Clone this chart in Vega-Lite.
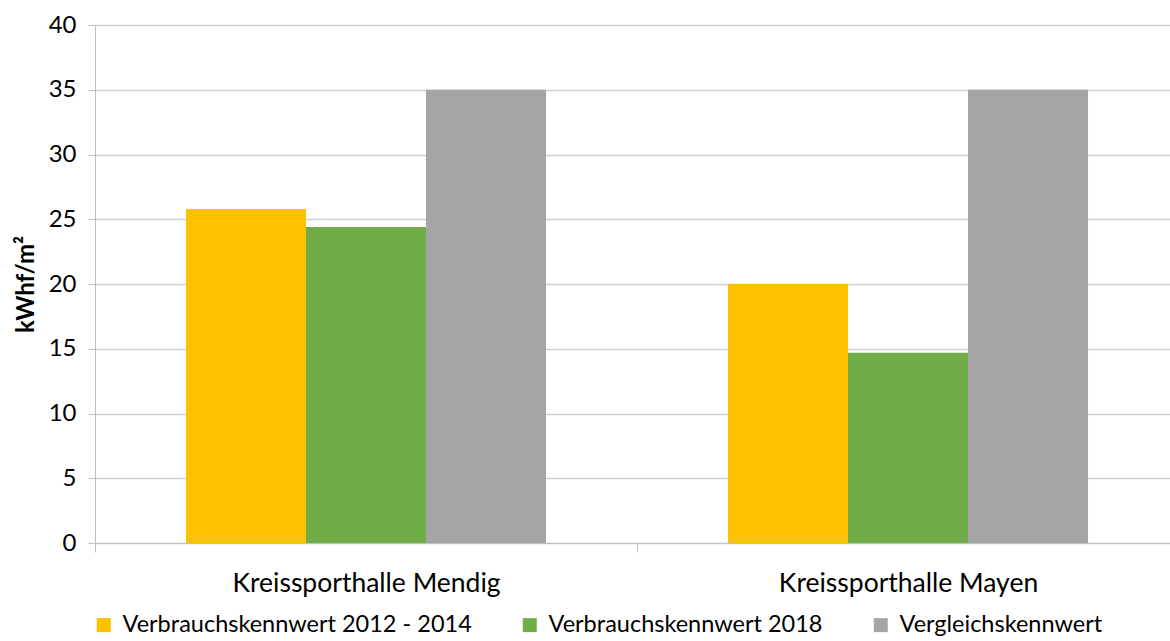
{
  "$schema": "https://vega.github.io/schema/vega-lite/v6.json",
  "width": 1084,
  "height": 518,
  "autosize": "none",
  "padding": {"left": 95, "top": 25, "right": 0, "bottom": 98},
  "background": "white",
  "config": {
    "font": "Lato",
    "view": {"stroke": null},
    "axis": {"labelColor": "#000000", "labelFont": "Lato", "titleFont": "Lato"}
  },
  "data": {
    "values": [
      {"halle": "Kreissporthalle Mendig", "serie": "Verbrauchskennwert 2012 - 2014", "wert": 25.8},
      {"halle": "Kreissporthalle Mendig", "serie": "Verbrauchskennwert 2018", "wert": 24.4},
      {"halle": "Kreissporthalle Mendig", "serie": "Vergleichskennwert", "wert": 35},
      {"halle": "Kreissporthalle Mayen", "serie": "Verbrauchskennwert 2012 - 2014", "wert": 20.0},
      {"halle": "Kreissporthalle Mayen", "serie": "Verbrauchskennwert 2018", "wert": 14.7},
      {"halle": "Kreissporthalle Mayen", "serie": "Vergleichskennwert", "wert": 35}
    ]
  },
  "mark": {"type": "bar"},
  "encoding": {
    "x": {
      "field": "halle",
      "type": "nominal",
      "sort": ["Kreissporthalle Mendig", "Kreissporthalle Mayen"],
      "scale": {"paddingInner": 0, "paddingOuter": 0},
      "axis": {
        "title": null,
        "labelAngle": 0,
        "labelFontSize": 26.5,
        "labelPadding": 18,
        "labelLimit": 600,
        "tickBand": "extent",
        "tickSize": 9,
        "tickColor": "#BFBFBF",
        "domainColor": "#BFBFBF",
        "grid": false
      }
    },
    "xOffset": {
      "field": "serie",
      "type": "nominal",
      "sort": ["Verbrauchskennwert 2012 - 2014", "Verbrauchskennwert 2018", "Vergleichskennwert"],
      "scale": {"paddingInner": 0, "paddingOuter": 0.758}
    },
    "y": {
      "field": "wert",
      "type": "quantitative",
      "scale": {"domain": [0, 40]},
      "axis": {
        "title": "kWhf/m²",
        "titleFontSize": 24,
        "titleFontWeight": "bold",
        "titleColor": "#000000",
        "titlePadding": 10,
        "values": [0, 5, 10, 15, 20, 25, 30, 35, 40],
        "labelFontSize": 24,
        "labelPadding": 12,
        "tickSize": 7,
        "tickColor": "#BFBFBF",
        "domainColor": "#BFBFBF",
        "gridColor": "#D0D0D0",
        "gridWidth": 1.5
      }
    },
    "color": {
      "field": "serie",
      "type": "nominal",
      "sort": ["Verbrauchskennwert 2012 - 2014", "Verbrauchskennwert 2018", "Vergleichskennwert"],
      "scale": {"range": ["#FFC000", "#70AD47", "#A5A5A5"]},
      "legend": {
        "title": null,
        "orient": "none",
        "legendX": -3,
        "legendY": 588,
        "direction": "horizontal",
        "symbolType": "square",
        "symbolSize": 196,
        "symbolStrokeWidth": 0,
        "labelFontSize": 23.5,
        "labelColor": "#000000",
        "labelOffset": 7,
        "columnPadding": 46,
        "padding": 0,
        "labelLimit": 500
      }
    }
  }
}
